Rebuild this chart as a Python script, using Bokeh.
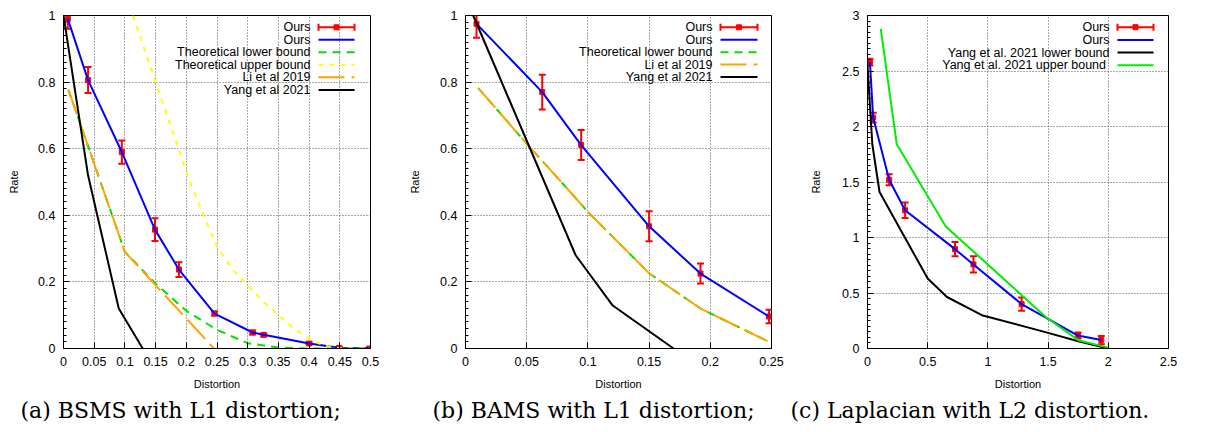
from bokeh.plotting import figure
from bokeh.layouts import row
from bokeh.models import (Range1d, FixedTicker, Title, Label,
                          Whisker, TeeHead, ColumnDataSource)
from bokeh.embed import file_html
from bokeh.resources import INLINE

# ---------------- data: panel (a) BSMS, L1 ----------------
a_x_ticks = ["0", "0.05", "0.1", "0.15", "0.2", "0.25", "0.3", "0.35", "0.4", "0.45", "0.5"]
a_y_ticks = ["0", "0.2", "0.4", "0.6", "0.8", "1"]
a_ours_d = [0.007, 0.04, 0.095, 0.149, 0.188, 0.246, 0.308, 0.326, 0.40, 0.449, 0.498]
a_ours_r = [0.99, 0.806, 0.59, 0.357, 0.237, 0.105, 0.048, 0.041, 0.015, 0.002, 0.0]
a_ours_err = [0.03, 0.039, 0.035, 0.034, 0.022, 0.006, 0.006, 0.004, 0.004, 0.003, 0.002]
a_lower_d = [0.008, 0.1, 0.15, 0.2, 0.25, 0.3, 0.35, 0.4, 0.5]
a_lower_r = [0.777, 0.29, 0.195, 0.113, 0.056, 0.016, 0.003, 0.0, 0.0]
a_upper_d = [0.113, 0.206, 0.25, 0.277, 0.3, 0.326, 0.35, 0.375, 0.4, 0.425, 0.45, 0.5]
a_upper_r = [1.0, 0.5, 0.305, 0.234, 0.19, 0.14, 0.1, 0.061, 0.028, 0.008, 0.001, 0.0]
a_li_d = [0.008, 0.1, 0.245]
a_li_r = [0.777, 0.29, 0.0]
a_yang_d = [0.0, 0.04, 0.09, 0.129]
a_yang_r = [1.0, 0.52, 0.12, 0.0]

# ---------------- data: panel (b) BAMS, L1 ----------------
b_x_ticks = ["0", "0.05", "0.1", "0.15", "0.2", "0.25"]
b_y_ticks = ["0", "0.2", "0.4", "0.6", "0.8", "1"]
b_ours_d = [0.009, 0.0627, 0.0945, 0.15, 0.192, 0.248]
b_ours_r = [0.975, 0.77, 0.611, 0.367, 0.225, 0.096]
b_ours_err = [0.042, 0.052, 0.045, 0.045, 0.03, 0.02]
b_lower_d = [0.0104, 0.05, 0.0885, 0.1, 0.15, 0.192, 0.249]
b_lower_r = [0.782, 0.615, 0.458, 0.41, 0.226, 0.12, 0.018]
b_li_d = [0.0104, 0.05, 0.0885, 0.1, 0.15, 0.192, 0.249]
b_li_r = [0.782, 0.615, 0.458, 0.41, 0.226, 0.12, 0.018]
b_yang_d = [0.0063, 0.09, 0.12, 0.17]
b_yang_r = [1.0, 0.28, 0.13, 0.0]

# ---------------- data: panel (c) Laplacian, L2 ----------------
c_x_ticks = ["0", "0.5", "1", "1.5", "2", "2.5"]
c_y_ticks = ["0", "0.5", "1", "1.5", "2", "2.5", "3"]
c_ours_d = [0.02, 0.047, 0.18, 0.312, 0.727, 0.88, 1.28, 1.748, 1.942]
c_ours_r = [2.58, 2.08, 1.52, 1.245, 0.895, 0.757, 0.40, 0.117, 0.076]
c_ours_err = [0.03, 0.045, 0.05, 0.07, 0.065, 0.073, 0.06, 0.027, 0.037]
c_ylower_d = [0.0, 0.04, 0.1, 0.5, 0.66, 0.95, 1.47, 1.75, 2.0]
c_ylower_r = [2.55, 1.84, 1.41, 0.63, 0.464, 0.3, 0.15, 0.065, 0.0]
c_yupper_d = [0.11, 0.243, 0.65, 1.48, 1.75, 2.0]
c_yupper_r = [2.88, 1.84, 1.1, 0.284, 0.075, 0.008]

SANS = "Liberation Sans"
SERIF = "DejaVu Serif"
RED, BLUE, GREEN, YELLOW, ORANGE, BLACK = "#ff0000", "#0000ff", "#00e000", "#ffff00", "#ffa500", "#000000"
GREEN_C = "#00ee00"

STYLE = {
    "ours": dict(line_color=BLUE, line_width=2),
    "lower": dict(line_color=GREEN, line_width=2, line_dash="8 6"),
    "upper": dict(line_color=YELLOW, line_width=2, line_dash="5 6"),
    "li": dict(line_color=ORANGE, line_width=2, line_dash="26 7"),
    "yang": dict(line_color=BLACK, line_width=2),
    "yupper": dict(line_color=GREEN_C, line_width=2),
}


def make_panel(W, H, bl, br, bt, bb, xr, yr, xlabels, ylabels, ystep_minor,
               caption, cap_offset, rate_standoff):
    p = figure(width=W, height=H, x_range=Range1d(*xr), y_range=Range1d(*yr),
               output_backend="svg", toolbar_location=None,
               min_border_left=bl, min_border_right=br,
               min_border_top=bt, min_border_bottom=bb,
               x_axis_label="Distortion", y_axis_label="Rate")
    p.background_fill_color = "white"
    p.border_fill_color = "white"
    p.outline_line_color = "black"
    p.outline_line_width = 1
    p.outline_line_alpha = 1

    xt = [float(s) for s in xlabels]
    yt = [float(s) for s in ylabels]
    nmin = int(round((yr[1] - yr[0]) / ystep_minor))
    ym = [yr[0] + i * ystep_minor for i in range(nmin + 1)]
    xticker = FixedTicker(ticks=xt)
    yticker = FixedTicker(ticks=yt, minor_ticks=ym)

    for ax in p.xaxis:
        ax.ticker = xticker
        ax.major_label_overrides = {t: s for t, s in zip(xt, xlabels)}
        ax.major_label_standoff = 8
        ax.axis_label_standoff = 9
    for ax in p.yaxis:
        ax.ticker = yticker
        ax.major_label_overrides = {t: s for t, s in zip(yt, ylabels)}
        ax.major_label_standoff = 8
        ax.axis_label_standoff = rate_standoff
    for ax in list(p.xaxis) + list(p.yaxis):
        ax.major_tick_in = 6
        ax.major_tick_out = 0
        ax.minor_tick_in = 3
        ax.minor_tick_out = 0
        ax.axis_line_color = "black"
        ax.major_tick_line_color = "black"
        ax.minor_tick_line_color = "black"
        ax.major_label_text_font = SANS
        ax.major_label_text_font_size = "12.5px"
        ax.major_label_text_color = "black"
        ax.axis_label_text_font = SANS
        ax.axis_label_text_font_size = "11px"
        ax.axis_label_text_font_style = "normal"
        ax.axis_label_text_color = "black"

    p.xgrid.ticker = xticker
    p.ygrid.ticker = yticker
    for g in list(p.xgrid) + list(p.ygrid):
        g.grid_line_color = "#444444"
        g.grid_line_dash = "1 2"
        g.grid_line_width = 1
        g.grid_line_alpha = 0.9

    cap = Title(text=caption, align="left", offset=cap_offset,
                text_font=SERIF, text_font_size="22px", text_font_style="normal",
                text_color="black", standoff=7)
    p.add_layout(cap, "below")
    geom = dict(xr=xr, yr=yr, fw=W - bl - br, fh=H - bt - bb, bl=bl, bt=bt)
    return p, geom


def ours_errorbars(p, d, r, err):
    src = ColumnDataSource(dict(base=d, lower=[v - e for v, e in zip(r, err)],
                                upper=[v + e for v, e in zip(r, err)]))
    w = Whisker(base="base", lower="lower", upper="upper", source=src,
                dimension="height", line_color=RED, line_width=2,
                upper_head=TeeHead(size=7, line_color=RED, line_width=2),
                lower_head=TeeHead(size=7, line_color=RED, line_width=2))
    p.add_layout(w)
    p.scatter(d, r, marker="square", size=5, color=RED)


def to_x(g, fx):
    xr = g["xr"]
    return xr[0] + (fx - g["bl"]) / g["fw"] * (xr[1] - xr[0])


def to_y(g, fy):
    yr = g["yr"]
    return yr[1] - (fy - g["bt"]) / g["fh"] * (yr[1] - yr[0])


def legend(p, g, entries, text_right, s_left, s_right, row0, dy):
    # all positions are in figure pixels
    for i, (label, kind) in enumerate(entries):
        fy = row0 + i * dy
        y = to_y(g, fy)
        p.add_layout(Label(x=to_x(g, text_right), y=y, text=label,
                           text_align="right", text_baseline="middle",
                           text_font=SANS, text_font_size="12.5px",
                           text_color="black"))
        x0, x1 = to_x(g, s_left), to_x(g, s_right)
        if kind == "err":
            ya, yb = to_y(g, fy - 3.5), to_y(g, fy + 3.5)
            p.segment([x0, x0, x1], [y, ya, ya], [x1, x0, x1], [y, yb, yb],
                      line_color=RED, line_width=2)
            p.scatter([(x0 + x1) / 2], [y], marker="square", size=5, color=RED)
        else:
            p.segment([x0], [y], [x1], [y], **STYLE[kind])


H = 432
# ---------------- panel (a) ----------------
pa, ga = make_panel(400, H, 63, 30, 10, 84, (0, 0.5), (0, 1), a_x_ticks, a_y_ticks, 0.02,
                    "(a) BSMS with L1 distortion;", -43, 15)
ours_errorbars(pa, a_ours_d, a_ours_r, a_ours_err)
pa.line(a_ours_d, a_ours_r, **STYLE["ours"])
pa.line(a_lower_d, a_lower_r, **STYLE["lower"])
pa.line(a_upper_d, a_upper_r, **STYLE["upper"])
pa.line(a_li_d, a_li_r, **STYLE["li"])
pa.line(a_yang_d, a_yang_r, **STYLE["yang"])
legend(pa, ga, [("Ours", "err"), ("Ours", "ours"), ("Theoretical lower bound", "lower"),
                ("Theoretical upper bound", "upper"), ("Li et al 2019", "li"),
                ("Yang et al 2021", "yang")],
       310, 318, 354, 22, 12.7)

# ---------------- panel (b) ----------------
pb, gb = make_panel(390, H, 65, 19, 10, 84, (0, 0.25), (0, 1), b_x_ticks, b_y_ticks, 0.02,
                    "(b) BAMS with L1 distortion;", -33, 16)
ours_errorbars(pb, b_ours_d, b_ours_r, b_ours_err)
pb.line(b_ours_d, b_ours_r, **STYLE["ours"])
pb.line(b_lower_d, b_lower_r, **STYLE["lower"])
pb.line(b_li_d, b_li_r, **STYLE["li"])
pb.line(b_yang_d, b_yang_r, **STYLE["yang"])
legend(pb, gb, [("Ours", "err"), ("Ours", "ours"), ("Theoretical lower bound", "lower"),
                ("Li et al 2019", "li"), ("Yang et al 2021", "yang")],
       312, 320, 357, 22, 12.6)

# ---------------- panel (c) ----------------
pc, gc = make_panel(416, H, 77, 38, 15, 84, (0, 2.5), (0, 3), c_x_ticks, c_y_ticks, 0.05,
                    "(c) Laplacian with L2 distortion.", -77, 17)
ours_errorbars(pc, c_ours_d, c_ours_r, c_ours_err)
pc.line(c_ours_d, c_ours_r, **STYLE["ours"])
pc.line(c_ylower_d, c_ylower_r, **STYLE["yang"])
pc.line(c_yupper_d, c_yupper_r, **STYLE["yupper"])
legend(pc, gc, [("Ours", "err"), ("Ours", "ours"), ("Yang et al. 2021 lower bound", "yang"),
                ("Yang et al. 2021  upper bound", "yupper")],
       319, 327, 363, 26.7, 12.7)

layout = row(pa, pb, pc, spacing=0)
open("out.html", "w").write(file_html(layout, INLINE))
